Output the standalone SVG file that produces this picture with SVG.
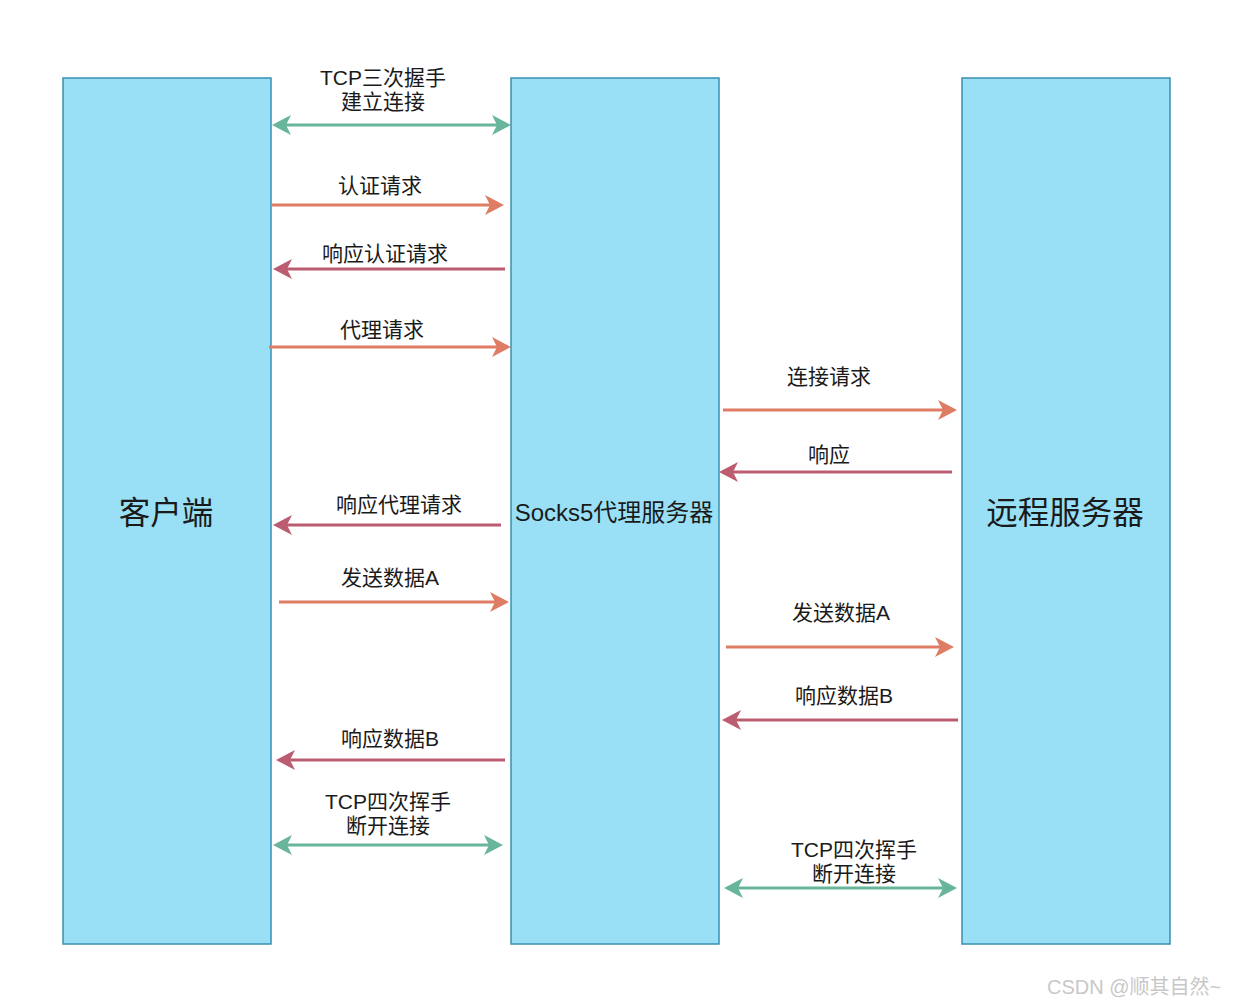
<svg xmlns="http://www.w3.org/2000/svg" width="1247" height="1005" viewBox="0 0 1247 1005">
<style>
.box{fill:#99e0f7;stroke:#3a8fb0;stroke-width:1.5}
.t{font-family:"Liberation Sans","Noto Sans CJK SC",sans-serif;font-size:21px;fill:#1a1a1a;text-anchor:middle}
.big{font-size:31.5px}
.mid{font-size:24px}
.g{stroke:#67b59b;stroke-width:3;fill:none}
.o{stroke:#df7d64;stroke-width:3;fill:none}
.m{stroke:#bb5c70;stroke-width:3;fill:none}
.wm{font-family:"Liberation Sans","Noto Sans CJK SC",sans-serif;font-size:20px;fill:#c8c8c8}
</style>
<defs>
<marker id="ag" markerUnits="userSpaceOnUse" markerWidth="22" markerHeight="22" refX="5" refY="10" orient="auto-start-reverse"><path d="M0,0 L19,10 L0,20 L5,10 z" fill="#67b59b"/></marker>
<marker id="ao" markerUnits="userSpaceOnUse" markerWidth="22" markerHeight="22" refX="5" refY="10" orient="auto-start-reverse"><path d="M0,0 L19,10 L0,20 L5,10 z" fill="#df7d64"/></marker>
<marker id="am" markerUnits="userSpaceOnUse" markerWidth="22" markerHeight="22" refX="5" refY="10" orient="auto-start-reverse"><path d="M0,0 L19,10 L0,20 L5,10 z" fill="#bb5c70"/></marker>
</defs>
<rect width="1247" height="1005" fill="#ffffff"/>
<g id="client"><rect class="box" x="63" y="78" width="208" height="866"/><text class="t big" x="166" y="524">客户端</text></g>
<g id="proxy"><rect class="box" x="511" y="78" width="208" height="866"/><text class="t mid" x="614" y="521">Socks5代理服务器</text></g>
<g id="remote"><rect class="box" x="962" y="78" width="208" height="866"/><text class="t big" x="1065" y="524">远程服务器</text></g>
<g id="connectors">
<line class="g" x1="286" y1="125" x2="497" y2="125" marker-start="url(#ag)" marker-end="url(#ag)"/>
<line class="o" x1="271" y1="205" x2="490" y2="205" marker-end="url(#ao)"/>
<line class="m" x1="505" y1="269" x2="287" y2="269" marker-end="url(#am)"/>
<line class="o" x1="269" y1="347" x2="497" y2="347" marker-end="url(#ao)"/>
<line class="o" x1="723" y1="410" x2="943" y2="410" marker-end="url(#ao)"/>
<line class="m" x1="952" y1="472" x2="733" y2="472" marker-end="url(#am)"/>
<line class="m" x1="501" y1="525" x2="287" y2="525" marker-end="url(#am)"/>
<line class="o" x1="279" y1="602" x2="495" y2="602" marker-end="url(#ao)"/>
<line class="o" x1="726" y1="647" x2="940" y2="647" marker-end="url(#ao)"/>
<line class="m" x1="958" y1="720" x2="736" y2="720" marker-end="url(#am)"/>
<line class="m" x1="505" y1="760" x2="290" y2="760" marker-end="url(#am)"/>
<line class="g" x1="287" y1="845" x2="489" y2="845" marker-start="url(#ag)" marker-end="url(#ag)"/>
<line class="g" x1="738" y1="888" x2="943" y2="888" marker-start="url(#ag)" marker-end="url(#ag)"/>
<text class="t" x="383" y="85">TCP三次握手</text>
<text class="t" x="383" y="109">建立连接</text>
<text class="t" x="380" y="193">认证请求</text>
<text class="t" x="385" y="261">响应认证请求</text>
<text class="t" x="382" y="337">代理请求</text>
<text class="t" x="829" y="384">连接请求</text>
<text class="t" x="829" y="462">响应</text>
<text class="t" x="399" y="512">响应代理请求</text>
<text class="t" x="390" y="585">发送数据A</text>
<text class="t" x="841" y="620">发送数据A</text>
<text class="t" x="844" y="703">响应数据B</text>
<text class="t" x="390" y="746">响应数据B</text>
<text class="t" x="388" y="809">TCP四次挥手</text>
<text class="t" x="388" y="833">断开连接</text>
<text class="t" x="854" y="857">TCP四次挥手</text>
<text class="t" x="854" y="881">断开连接</text>
</g>
<text class="wm" x="1047" y="994">CSDN @顺其自然~</text>
</svg>
